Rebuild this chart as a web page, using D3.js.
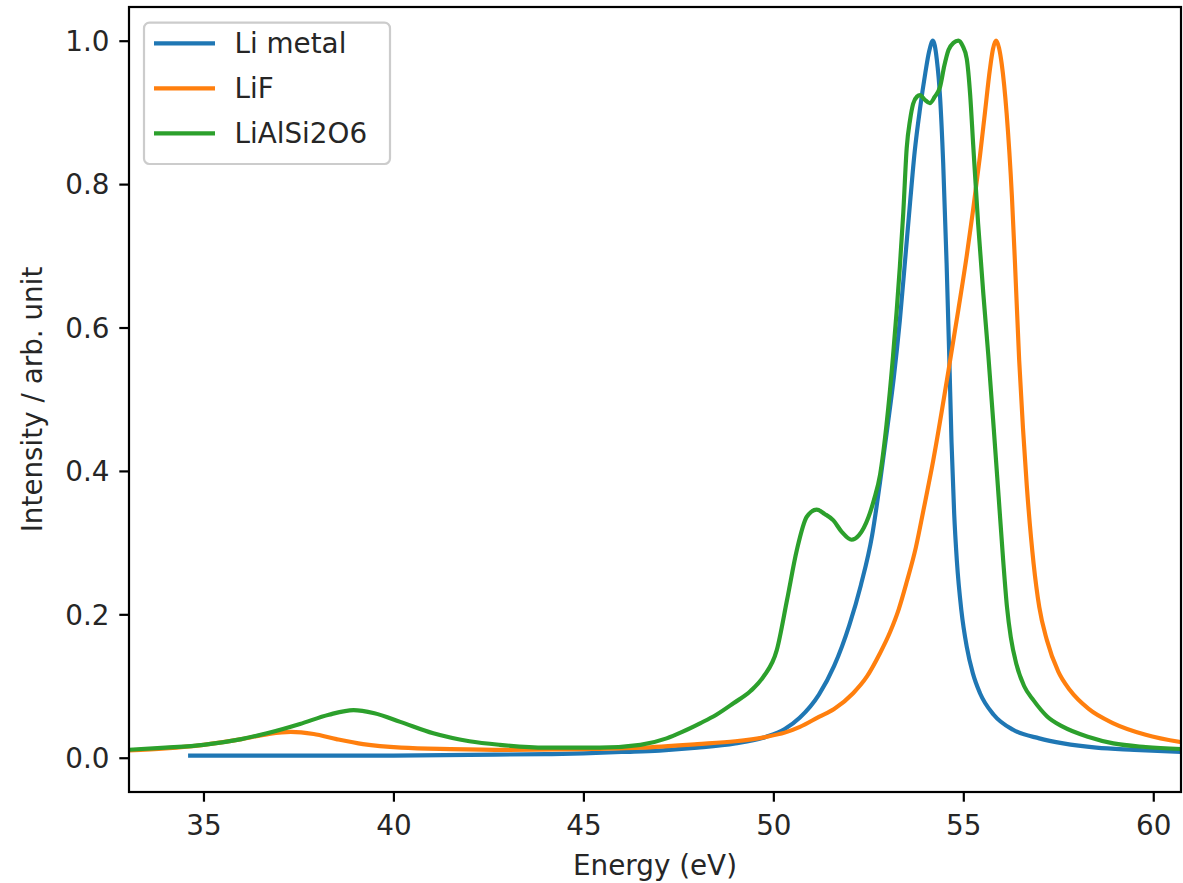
<!DOCTYPE html>
<html>
<head>
<meta charset="utf-8">
<script src="https://cdn.jsdelivr.net/npm/d3@7"></script>
<style>
  html, body { margin: 0; padding: 0; background: #fff; }
  svg { display: block; font-family: "DejaVu Sans", sans-serif; }
</style>
</head>
<body>
<svg id="chart" width="1183" height="883"></svg>
<script>
// ---- data ----
const seriesNames = ["Li metal", "LiF", "LiAlSi2O6"];
const seriesColors = ["#1f77b4", "#ff7f0e", "#2ca02c"];

const liMetalE = [34.65, 37, 40, 42, 44, 45, 46, 47, 48, 49, 49.8, 50.3, 50.7, 51.2, 51.6, 52.0, 52.3, 52.6, 52.81, 53.0, 53.17, 53.33, 53.47, 53.6, 53.72, 53.86, 54.0, 54.1, 54.2, 54.3, 54.39, 54.47, 54.56, 54.63, 54.69, 54.76, 54.83, 54.95, 55.09, 55.25, 55.44, 55.8, 56.31, 57, 57.63, 58.5, 59.5, 60.8];
const liMetalI = [0.003, 0.003, 0.003, 0.004, 0.005, 0.006, 0.008, 0.010, 0.014, 0.020, 0.029, 0.040, 0.056, 0.088, 0.128, 0.185, 0.240, 0.310, 0.385, 0.460, 0.530, 0.610, 0.695, 0.775, 0.845, 0.905, 0.955, 0.985, 1.0, 0.975, 0.920, 0.830, 0.690, 0.560, 0.440, 0.340, 0.275, 0.205, 0.155, 0.118, 0.090, 0.060, 0.039, 0.027, 0.020, 0.014, 0.011, 0.008];

const lifE = [33.0, 34, 35, 36, 36.7, 37.3, 37.9, 38.5, 39.2, 40.2, 41.5, 43, 45, 46.5, 48, 49, 49.8, 50.3, 50.7, 51.2, 51.6, 52.1, 52.46, 52.8, 53.07, 53.3, 53.51, 53.75, 53.95, 54.21, 54.61, 54.87, 55.09, 55.26, 55.44, 55.57, 55.70, 55.78, 55.86, 55.94, 56.01, 56.14, 56.28, 56.36, 56.47, 56.57, 56.67, 56.85, 57.0, 57.2, 57.5, 57.81, 58.3, 58.95, 59.8, 60.8];
const lifI = [0.010, 0.013, 0.018, 0.026, 0.033, 0.036, 0.033, 0.026, 0.019, 0.014, 0.012, 0.011, 0.012, 0.014, 0.019, 0.023, 0.029, 0.035, 0.043, 0.057, 0.068, 0.090, 0.113, 0.145, 0.175, 0.207, 0.245, 0.293, 0.345, 0.415, 0.540, 0.625, 0.700, 0.765, 0.840, 0.900, 0.960, 0.988, 1.0, 0.990, 0.968, 0.899, 0.782, 0.690, 0.555, 0.460, 0.380, 0.271, 0.210, 0.164, 0.120, 0.094, 0.068, 0.048, 0.032, 0.021];

const lialE = [33.0, 34, 35, 36, 36.67, 37.54, 38.3, 38.95, 39.5, 40.18, 41.05, 42, 42.8, 44, 45.43, 46.5, 47.19, 47.6, 48.07, 48.5, 48.95, 49.4, 49.74, 50.09, 50.36, 50.62, 50.88, 51.14, 51.35, 51.58, 51.8, 52.06, 52.25, 52.5, 52.65, 52.81, 52.98, 53.15, 53.33, 53.42, 53.51, 53.6, 53.68, 53.78, 53.86, 53.98, 54.12, 54.25, 54.39, 54.5, 54.61, 54.74, 54.87, 54.98, 55.09, 55.18, 55.26, 55.39, 55.53, 55.66, 55.8, 55.93, 56.05, 56.15, 56.25, 56.4, 56.6, 56.85, 57.2, 57.63, 58.3, 58.95, 59.8, 60.8];
const lialI = [0.011, 0.014, 0.018, 0.026, 0.034, 0.047, 0.060, 0.0665, 0.062, 0.050, 0.034, 0.023, 0.018, 0.014, 0.014, 0.018, 0.027, 0.036, 0.048, 0.060, 0.076, 0.093, 0.113, 0.150, 0.220, 0.290, 0.336, 0.346, 0.340, 0.331, 0.315, 0.304, 0.310, 0.335, 0.360, 0.395, 0.465, 0.560, 0.685, 0.760, 0.850, 0.890, 0.912, 0.922, 0.924, 0.918, 0.913, 0.922, 0.936, 0.965, 0.987, 0.997, 1.0, 0.993, 0.975, 0.925, 0.855, 0.745, 0.645, 0.560, 0.460, 0.364, 0.275, 0.210, 0.168, 0.130, 0.100, 0.080, 0.058, 0.043, 0.029, 0.020, 0.015, 0.012];

const xTicks = [35, 40, 45, 50, 55, 60];
const yTicks = [0.0, 0.2, 0.4, 0.6, 0.8, 1.0];
const xLabel = "Energy (eV)";
const yLabel = "Intensity / arb. unit";

// ---- layout ----
const L = 129, R = 1181, T = 7, B = 792;
const FS = 27.8;
const svg = d3.select("#chart");
svg.append("rect").attr("width", 1183).attr("height", 883).attr("fill", "#fff");

const x = d3.scaleLinear().domain([33.04, 60.73]).range([L, R]);
const y = d3.scaleLinear().domain([-0.0478, 1.047]).range([B, T]);

svg.append("clipPath").attr("id", "clip")
  .append("rect").attr("x", L).attr("y", T).attr("width", R - L).attr("height", B - T);

const series = [
  liMetalE.map((e, i) => [e, liMetalI[i]]),
  lifE.map((e, i) => [e, lifI[i]]),
  lialE.map((e, i) => [e, lialI[i]])
];

const line = d3.line().x(d => x(d[0])).y(d => y(d[1])).curve(d3.curveMonotoneX);

const g = svg.append("g").attr("clip-path", "url(#clip)");
series.forEach((s, i) => {
  g.append("path").datum(s).attr("d", line)
    .attr("fill", "none").attr("stroke", seriesColors[i])
    .attr("stroke-width", 4.17).attr("stroke-linejoin", "round").attr("stroke-linecap", "square");
});

// axes
const xAxis = d3.axisBottom(x).tickValues(xTicks).tickFormat(d3.format("d"))
  .tickSize(9.7).tickPadding(9.7);
const yAxis = d3.axisLeft(y).tickValues(yTicks).tickFormat(d3.format(".1f"))
  .tickSize(9.7).tickPadding(9.7);

const gx = svg.append("g").attr("transform", `translate(0,${B})`).call(xAxis);
const gy = svg.append("g").attr("transform", `translate(${L},0)`).call(yAxis);
[gx, gy].forEach(ax => {
  ax.select(".domain").remove();
  ax.selectAll(".tick line").attr("stroke", "#000").attr("stroke-width", 2.2);
  ax.selectAll(".tick text").attr("fill", "#262626").attr("font-size", FS)
    .attr("font-family", "DejaVu Sans");
});
gx.selectAll(".tick text").attr("dy", null).attr("y", 43);
gy.selectAll(".tick text").attr("dy", "0.35em").attr("x", -19.5);

// frame
svg.append("rect").attr("x", L).attr("y", T).attr("width", R - L).attr("height", B - T)
  .attr("fill", "none").attr("stroke", "#000").attr("stroke-width", 2.2);

// axis labels
svg.append("text").attr("x", (L + R) / 2).attr("y", 875).attr("text-anchor", "middle")
  .attr("font-size", FS).attr("fill", "#262626").text(xLabel);
svg.append("text").attr("transform", `translate(42,${(T + B) / 2}) rotate(-90)`)
  .attr("text-anchor", "middle").attr("font-size", FS).attr("fill", "#262626").text(yLabel);

// legend
const lg = svg.append("g");
lg.append("rect").attr("x", 144).attr("y", 22.7).attr("width", 246).attr("height", 141.3)
  .attr("rx", 5.5).attr("fill", "#fff").attr("fill-opacity", 0.8)
  .attr("stroke", "#cccccc").attr("stroke-width", 2.2);
seriesNames.forEach((name, i) => {
  const yy = 43.3 + i * 45;
  lg.append("line").attr("x1", 154).attr("x2", 215).attr("y1", yy).attr("y2", yy)
    .attr("stroke", seriesColors[i]).attr("stroke-width", 4.17);
  lg.append("text").attr("x", 234.5).attr("y", yy).attr("dy", "0.36em")
    .attr("font-size", FS).attr("fill", "#262626").text(name);
});
</script>
</body>
</html>
